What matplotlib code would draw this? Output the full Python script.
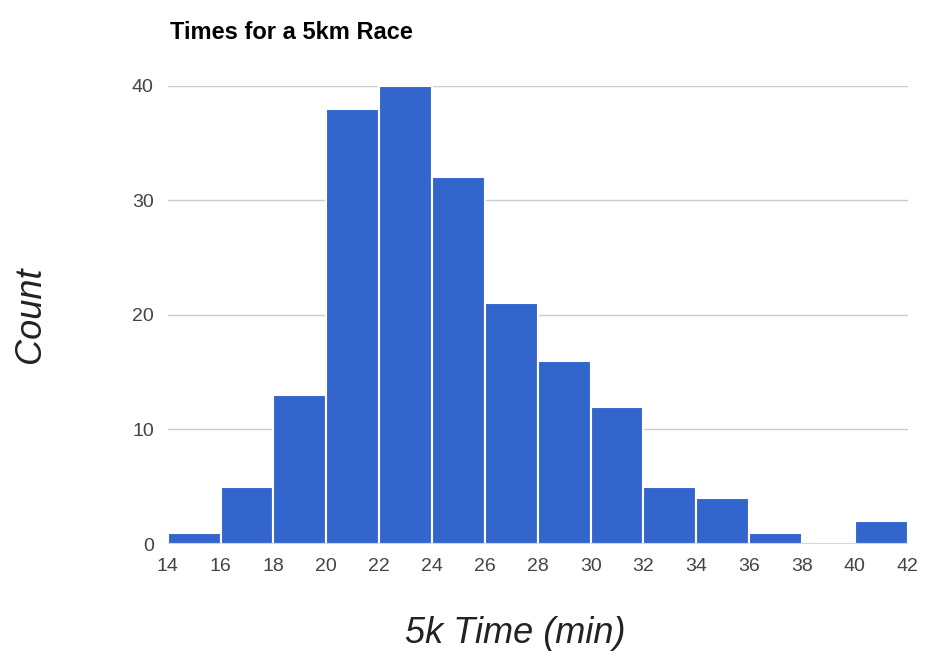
import numpy as np
import matplotlib.pyplot as plt

plt.rcParams["font.family"] = "Liberation Sans"

# Histogram data: 2-minute bins from 14 to 42
bin_edges = [14, 16, 18, 20, 22, 24, 26, 28, 30, 32, 34, 36, 38, 40, 42]
counts = [1, 5, 13, 38, 40, 32, 21, 16, 12, 5, 4, 1, 0, 2]
y_ticks = [0, 10, 20, 30, 40]

fig = plt.figure(figsize=(9.32, 6.7), dpi=100)
ax = fig.add_axes([0.180, 0.188, 0.794, 0.684])

lefts = np.array(bin_edges[:-1])
widths = np.diff(bin_edges)
ax.bar(lefts, counts, width=widths, align="edge", color="#3366cc",
       edgecolor="white", linewidth=1.5, zorder=3)

ax.set_xlim(bin_edges[0], bin_edges[-1])
ax.set_ylim(0, 40)
ax.set_xticks(bin_edges)
ax.set_yticks(y_ticks)
ax.tick_params(length=0, labelsize=14, colors="#444444", pad=10)
ax.grid(axis="y", color="#cccccc", linewidth=1, zorder=0)
for s in ax.spines.values():
    s.set_visible(False)
ax.axhline(0, color="#333333", linewidth=1, zorder=4)

fig.text(0.182, 0.951, "Times for a 5km Race", fontsize=17, fontweight="bold",
         ha="left", va="center")
fig.text(0.553, 0.055, "5k Time (min)", fontsize=26, style="italic",
         ha="center", va="center", color="#222222")
fig.text(0.033, 0.53, "Count", fontsize=26, style="italic", rotation=90,
         ha="center", va="center", color="#222222")

fig.savefig("out.png", dpi=100)
